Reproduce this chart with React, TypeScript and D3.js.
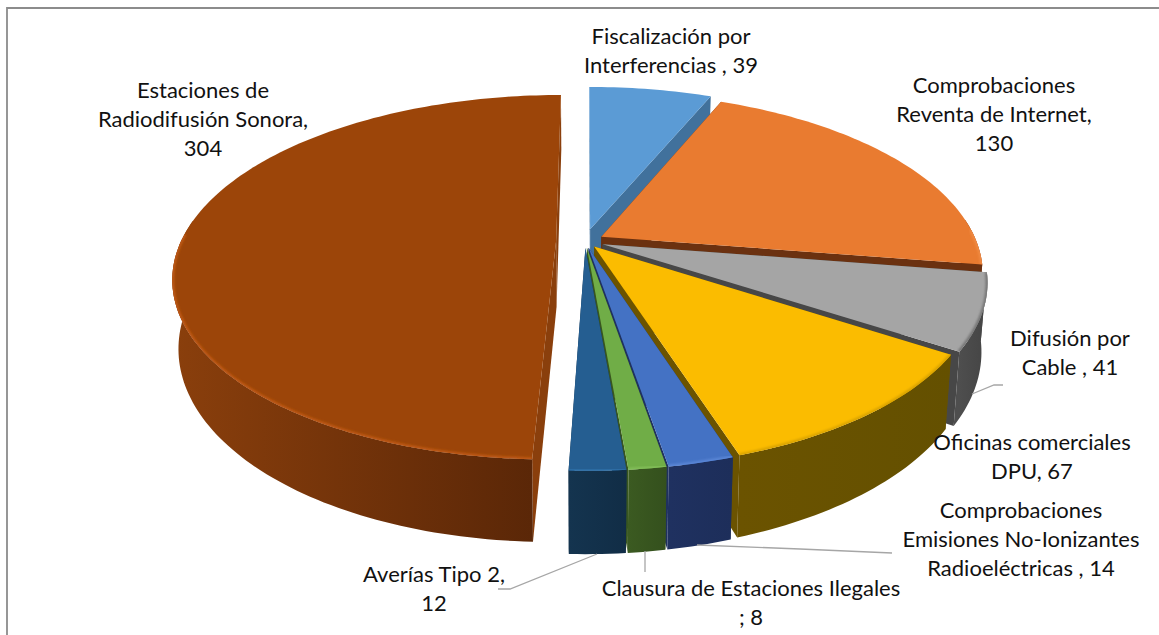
import React from 'react';
import * as d3 from 'd3';

// datos del grafico, en el orden de la torta
const categories = [
  'Fiscalización por Interferencias',
  'Comprobaciones Reventa de Internet',
  'Difusión por Cable',
  'Oficinas comerciales DPU',
  'Comprobaciones Emisiones No-Ionizantes Radioeléctricas',
  'Clausura de Estaciones Ilegales',
  'Averías Tipo 2',
  'Estaciones de Radiodifusión Sonora',
];
const values = [39, 130, 41, 67, 14, 8, 12, 304];
const labelLines = [
  ['Fiscalización por', 'Interferencias , 39'],
  ['Comprobaciones', 'Reventa de Internet,', '130'],
  ['Difusión por', 'Cable , 41'],
  ['Oficinas comerciales', 'DPU, 67'],
  ['Comprobaciones', 'Emisiones No-Ionizantes', 'Radioeléctricas , 14'],
  ['Clausura de Estaciones Ilegales', '; 8'],
  ['Averías Tipo 2,', '12'],
  ['Estaciones de', 'Radiodifusión Sonora,', '304'],
];

// estilos y layout
const topColors = ['#5B9BD5', '#E97B30', '#A5A5A5', '#FBBC00', '#4472C4', '#70AD47', '#255E91', '#9C4509'];
const rimColors = ['#6BA7DC', '#F08A42', '#767676', '#D9A300', '#5A86D6', '#82BE58', '#2F6FA8', '#BD5812'];
const sideColors = ['#41719C', '#6B3110', '#474747', '#6B5300', '#1F3160', '#38561F', '#12304A', '#8A3F0C'];
const wallStart = ['#41719C', '#6B3110', '#4E4E4E', '#6B5300', '#1F3160', '#3B5A21', '#14344F', '#8A3F0C'];
const wallEnd = ['#41719C', '#6B3110', '#444444', '#645000', '#1D2E5A', '#34501D', '#112D46', '#572507'];
const explode = [0.07, 0.05, 0.05, 0.04, 0.04, 0.04, 0.04, 0.077];
const labelX = [671, 994, 1070, 1032, 1021, 751, 434, 203];
const labelY = [44, 93, 346, 450, 518, 596, 582, 98];
const leaders = [
  [[972, 394], [994, 385], [1003, 385]],
  [[697, 545], [800, 549], [892, 553]],
  [[645, 551], [645, 572]],
  [[597, 554], [510, 589], [498, 589]],
];

const WIDTH = 1159;
const HEIGHT = 635;
const cx = 585;
const cy = 241;
const RX = 375;
const RY = 175;
const K = 0.2; // perspectiva
const DEPTH = 66;
const SHRINK = 0.985;

type Pt = [number, number];

// punto del disco (radio 1) a pantalla, z=0 arriba, z=1 abajo
const project = (X: number, Y: number, z: number): Pt => {
  const s = 1 / (1 + K * Y);
  const x = X * RX * s;
  const y = -Y * RY * s;
  return [cx + x * (z ? SHRINK : 1), cy + y + (z ? DEPTH * s : 0)];
};

const pie = d3
  .pie<number>()
  .sort(null)
  .startAngle(0)
  .endAngle(2 * Math.PI);

const toPath = d3.line<Pt>();

const arcs = pie(values).map((a, i) => {
  const mid = (a.startAngle + a.endAngle) / 2;
  const ox = explode[i] * Math.sin(mid);
  const oy = explode[i] * Math.cos(mid);
  const steps = Math.max(4, Math.ceil((a.endAngle - a.startAngle) / 0.02));
  const angles = d3.range(steps + 1).map((k) => a.startAngle + ((a.endAngle - a.startAngle) * k) / steps);
  const rim = (ts: number[], z: number) => ts.map((t) => project(ox + Math.sin(t), oy + Math.cos(t), z));
  // la pared curva solo se ve en la mitad delantera
  const front = angles.filter((t) => Math.cos(t) < 0.12);
  const bevel = angles.filter((t) => Math.cos(t) < 0.05);
  const top = rim(angles, 0);
  const xs = top.map((p) => p[0]);
  return {
    i,
    apexTop: project(ox, oy, 0),
    apexBottom: project(ox, oy, 1),
    top,
    bottom: rim(angles, 1),
    frontTop: rim(front, 0),
    frontBottom: rim(front, 1),
    bevel: rim(bevel, 0),
    x0: d3.min(xs) as number,
    x1: d3.max(xs) as number,
  };
});

// de atras hacia adelante
const drawOrder = [7, 0, 1, 2, 3, 4, 5, 6];

export default function App() {
  return (
    <svg
      width={WIDTH}
      height={HEIGHT}
      style={{ position: 'absolute', left: 0, top: 0, background: '#fff' }}
      fontFamily="Lato, 'Open Sans', sans-serif"
    >
      <defs>
        <filter id="soft" x="-10%" y="-10%" width="120%" height="120%">
          <feGaussianBlur stdDeviation="1.1" />
        </filter>
        {arcs.map((d) => (
          <linearGradient
            key={d.i}
            id={`wall${d.i}`}
            gradientUnits="userSpaceOnUse"
            x1={d.x0}
            x2={d.x1}
            y1={0}
            y2={0}
          >
            <stop offset="0" stopColor={wallStart[d.i]} />
            <stop offset="1" stopColor={wallEnd[d.i]} />
          </linearGradient>
        ))}
        {arcs.map((d) => (
          <clipPath key={d.i} id={`face${d.i}`}>
            <path d={`${toPath([d.apexTop, ...d.top])}Z`} />
          </clipPath>
        ))}
      </defs>

      <path
        d={`M7,${HEIGHT}V8H${WIDTH}`}
        fill="none"
        stroke="#8C8C8C"
        strokeWidth={1.8}
      />

      {drawOrder.map((idx) => {
        const d = arcs[idx];
        const first = d.top[0];
        const last = d.top[d.top.length - 1];
        const firstB = d.bottom[0];
        const lastB = d.bottom[d.bottom.length - 1];
        return (
          <g key={idx} data-name={categories[idx]}>
            <path d={`${toPath([d.apexTop, first, firstB, d.apexBottom])}Z`} fill={sideColors[idx]} />
            <path d={`${toPath([d.apexTop, last, lastB, d.apexBottom])}Z`} fill={sideColors[idx]} />
            {d.frontTop.length > 1 && (
              <path
                d={`${toPath([...d.frontTop, ...d.frontBottom.slice().reverse()])}Z`}
                fill={`url(#wall${idx})`}
              />
            )}
            <path d={`${toPath([d.apexTop, ...d.top])}Z`} fill={topColors[idx]} />
            {d.bevel.length > 1 && (
              <g clipPath={`url(#face${idx})`}>
                <path
                  d={toPath(d.bevel) as string}
                  fill="none"
                  stroke={rimColors[idx]}
                  strokeWidth={4}
                  filter="url(#soft)"
                />
              </g>
            )}
          </g>
        );
      })}

      {leaders.map((pts, i) => (
        <path key={i} d={toPath(pts as Pt[]) as string} fill="none" stroke="#A6A6A6" strokeWidth={1.3} />
      ))}

      {labelLines.map((lines, i) => (
        <text key={i} x={labelX[i]} y={labelY[i]} textAnchor="middle" fontSize={22} fill="#111">
          {lines.map((line, j) => (
            <tspan key={j} x={labelX[i]} dy={j === 0 ? 0 : 29}>
              {line}
            </tspan>
          ))}
        </text>
      ))}
    </svg>
  );
}
